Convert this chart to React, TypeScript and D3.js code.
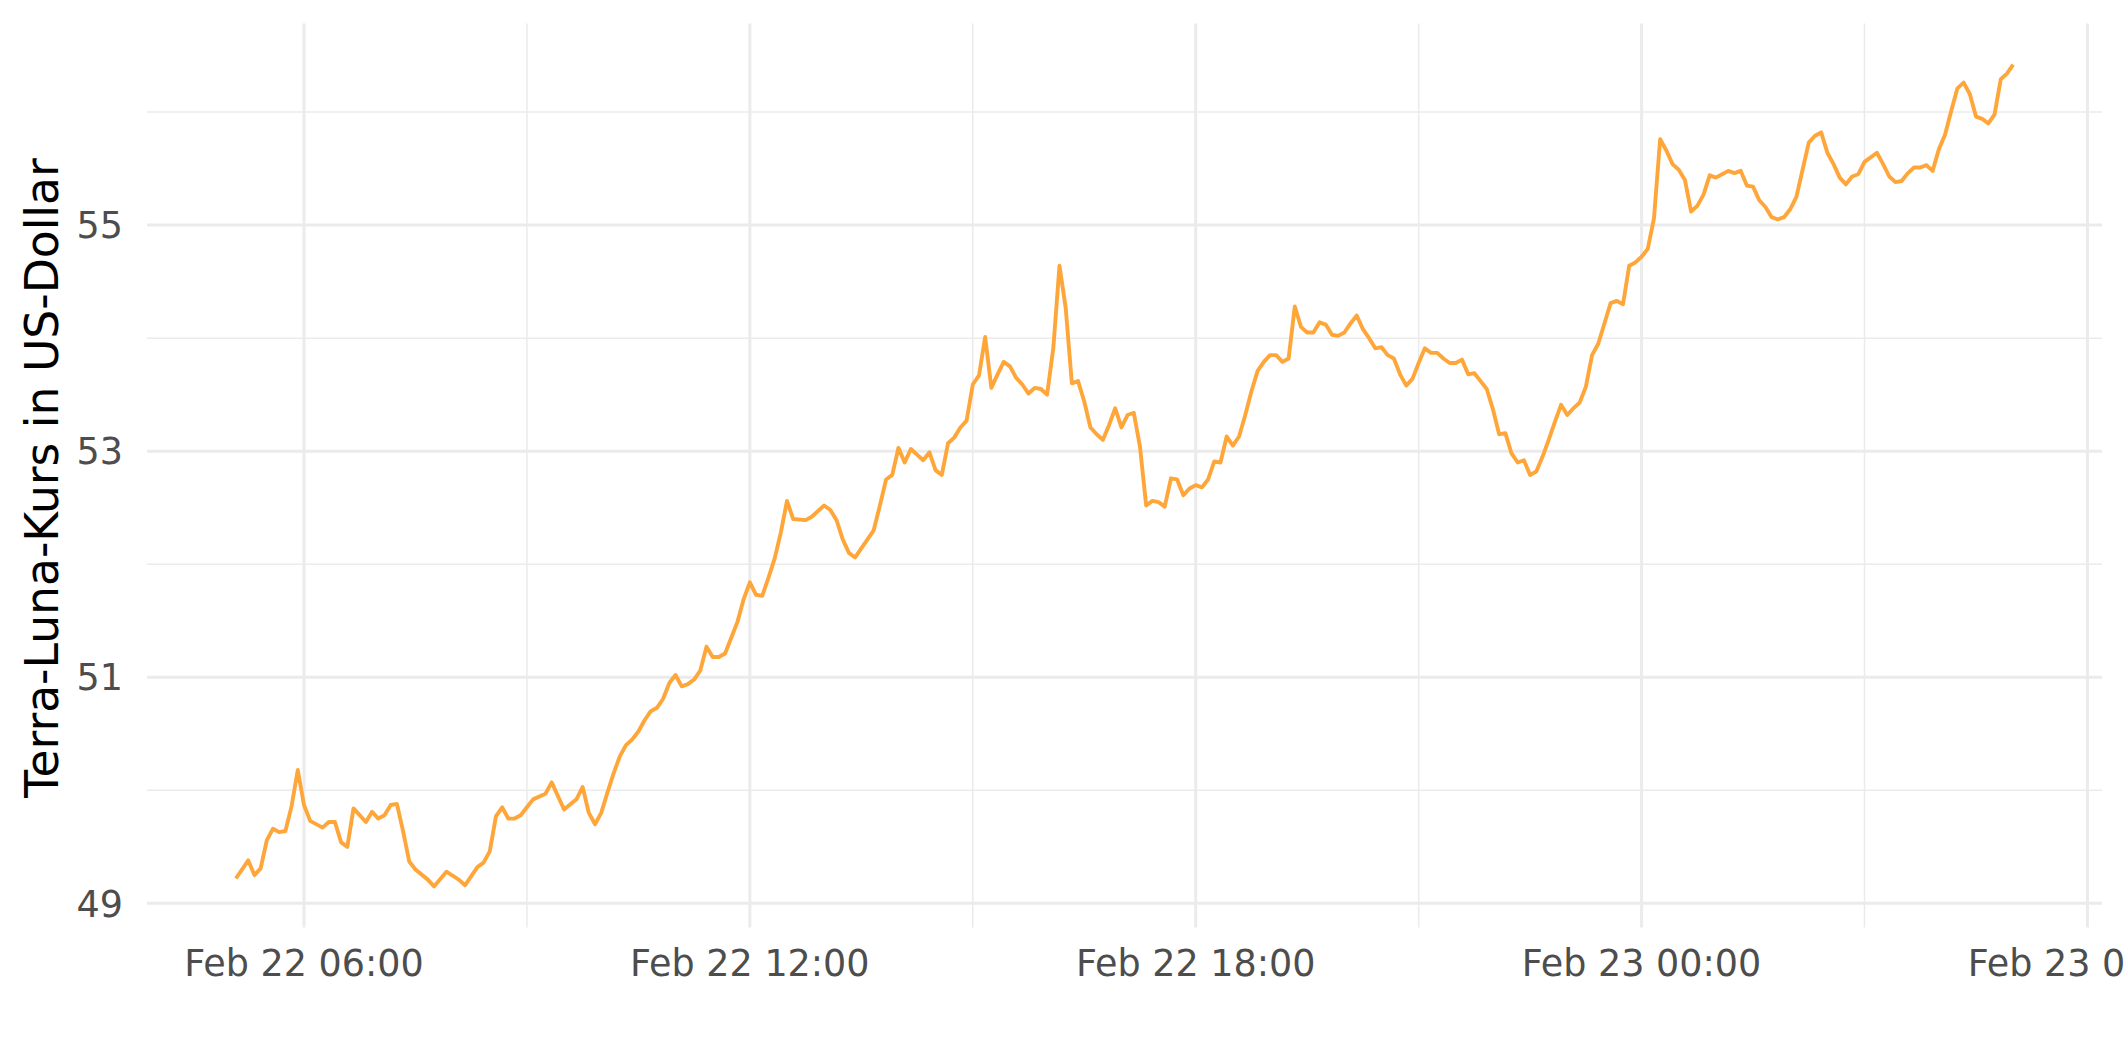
import React from "react";
import * as d3 from "d3";

// Terra-Luna price, 5-minute snapshots (day hh:mm, Feb 2022)
const times: string[] = [
  "22 05:05","22 05:15","22 05:20","22 05:25","22 05:30","22 05:35","22 05:40","22 05:45","22 05:50","22 05:55",
  "22 06:00","22 06:05","22 06:15","22 06:20","22 06:25","22 06:30","22 06:35","22 06:40","22 06:50","22 06:55",
  "22 07:00","22 07:05","22 07:10","22 07:15","22 07:20","22 07:25","22 07:30","22 07:40","22 07:45","22 07:55",
  "22 08:05","22 08:10","22 08:20","22 08:25","22 08:30","22 08:35","22 08:40","22 08:45","22 08:50","22 08:55",
  "22 09:00","22 09:05","22 09:15","22 09:20","22 09:30","22 09:40","22 09:45","22 09:50","22 09:55","22 10:00",
  "22 10:05","22 10:10","22 10:15","22 10:20","22 10:25","22 10:30","22 10:35","22 10:40","22 10:45","22 10:50",
  "22 10:55","22 11:00","22 11:05","22 11:10","22 11:15","22 11:20","22 11:25","22 11:30","22 11:35","22 11:40",
  "22 11:45","22 11:50","22 11:55","22 12:00","22 12:05","22 12:10","22 12:15","22 12:20","22 12:25","22 12:30",
  "22 12:35","22 12:45","22 12:50","22 13:00","22 13:05","22 13:10","22 13:15","22 13:20","22 13:25","22 13:30",
  "22 13:35","22 13:40","22 13:45","22 13:50","22 13:55","22 14:00","22 14:05","22 14:10","22 14:15","22 14:20",
  "22 14:25","22 14:30","22 14:35","22 14:40","22 14:45","22 14:50","22 14:55","22 15:00","22 15:05","22 15:10",
  "22 15:15","22 15:20","22 15:25","22 15:30","22 15:35","22 15:40","22 15:45","22 15:50","22 15:55","22 16:00",
  "22 16:05","22 16:10","22 16:15","22 16:20","22 16:25","22 16:30","22 16:35","22 16:40","22 16:45","22 16:50",
  "22 16:55","22 17:00","22 17:05","22 17:10","22 17:15","22 17:20","22 17:25","22 17:30","22 17:35","22 17:40",
  "22 17:45","22 17:50","22 17:55","22 18:00","22 18:05","22 18:10","22 18:15","22 18:20","22 18:25","22 18:30",
  "22 18:35","22 18:40","22 18:45","22 18:50","22 18:55","22 19:00","22 19:05","22 19:10","22 19:15","22 19:20",
  "22 19:25","22 19:30","22 19:35","22 19:40","22 19:45","22 19:50","22 19:55","22 20:00","22 20:05","22 20:10",
  "22 20:15","22 20:20","22 20:25","22 20:30","22 20:35","22 20:40","22 20:45","22 20:50","22 20:55","22 21:00",
  "22 21:05","22 21:10","22 21:15","22 21:20","22 21:25","22 21:30","22 21:35","22 21:40","22 21:45","22 21:50",
  "22 21:55","22 22:00","22 22:05","22 22:10","22 22:15","22 22:20","22 22:25","22 22:30","22 22:35","22 22:40",
  "22 22:45","22 22:50","22 22:55","22 23:00","22 23:05","22 23:10","22 23:15","22 23:20","22 23:25","22 23:30",
  "22 23:35","22 23:40","22 23:45","22 23:50","22 23:55","23 00:00","23 00:05","23 00:10","23 00:15","23 00:20",
  "23 00:25","23 00:30","23 00:35","23 00:40","23 00:45","23 00:50","23 00:55","23 01:00","23 01:05","23 01:10",
  "23 01:15","23 01:20","23 01:25","23 01:30","23 01:35","23 01:40","23 01:45","23 01:50","23 01:55","23 02:00",
  "23 02:05","23 02:10","23 02:15","23 02:20","23 02:25","23 02:30","23 02:35","23 02:40","23 02:45","23 02:50",
  "23 02:55","23 03:00","23 03:10","23 03:15","23 03:20","23 03:25","23 03:30","23 03:35","23 03:40","23 03:45",
  "23 03:50","23 03:55","23 04:00","23 04:05","23 04:10","23 04:15","23 04:20","23 04:25","23 04:30","23 04:35",
  "23 04:40","23 04:45","23 04:50","23 04:55","23 05:00",
];

const prices: number[] = [
  49.22,49.38,49.25,49.31,49.56,49.66,49.63,49.64,49.86,50.18,
  49.87,49.73,49.67,49.72,49.72,49.54,49.50,49.84,49.72,49.81,
  49.75,49.78,49.87,49.88,49.64,49.37,49.30,49.21,49.15,49.28,
  49.21,49.16,49.32,49.36,49.46,49.77,49.85,49.75,49.75,49.78,
  49.85,49.92,49.97,50.07,49.83,49.92,50.03,49.80,49.70,49.80,
  49.98,50.15,50.30,50.40,50.45,50.52,50.62,50.70,50.73,50.81,
  50.95,51.02,50.92,50.94,50.98,51.06,51.27,51.18,51.18,51.21,
  51.35,51.49,51.69,51.84,51.73,51.72,51.88,52.05,52.28,52.56,
  52.40,52.39,52.42,52.52,52.48,52.39,52.22,52.10,52.06,52.14,
  52.22,52.30,52.52,52.75,52.79,53.03,52.90,53.02,52.97,52.92,
  52.99,52.83,52.79,53.07,53.12,53.21,53.27,53.59,53.67,54.01,
  53.56,53.68,53.79,53.75,53.65,53.59,53.51,53.56,53.55,53.50,
  53.91,54.64,54.27,53.60,53.62,53.44,53.21,53.15,53.10,53.23,
  53.38,53.21,53.32,53.34,53.04,52.52,52.56,52.55,52.51,52.76,
  52.75,52.61,52.67,52.70,52.68,52.75,52.91,52.90,53.13,53.05,
  53.13,53.32,53.53,53.71,53.79,53.85,53.85,53.79,53.82,54.28,
  54.10,54.05,54.05,54.14,54.12,54.03,54.02,54.05,54.13,54.20,
  54.08,54.00,53.91,53.92,53.85,53.82,53.68,53.58,53.64,53.78,
  53.91,53.87,53.87,53.82,53.78,53.78,53.81,53.68,53.69,53.62,
  53.55,53.37,53.15,53.16,52.98,52.90,52.92,52.79,52.82,52.95,
  53.10,53.26,53.41,53.32,53.38,53.43,53.57,53.85,53.95,54.13,
  54.31,54.33,54.30,54.64,54.67,54.72,54.79,55.06,55.76,55.66,
  55.54,55.49,55.40,55.12,55.17,55.27,55.44,55.42,55.45,55.48,
  55.46,55.48,55.35,55.34,55.22,55.16,55.07,55.05,55.07,55.14,
  55.25,55.49,55.73,55.79,55.82,55.64,55.54,55.42,55.36,55.43,
  55.45,55.56,55.64,55.54,55.43,55.38,55.39,55.46,55.51,55.51,
  55.53,55.48,55.67,55.80,56.01,56.21,56.26,56.16,55.96,55.94,
  55.90,55.98,56.29,56.34,56.42,
];

const xMajorTicks: string[] = ["22 06:00", "22 12:00", "22 18:00", "23 00:00", "23 06:00"];
const xMinorTicks: string[] = ["22 09:00", "22 15:00", "22 21:00", "23 03:00"];
const yMajorTicks: number[] = [49, 51, 53, 55];
const yMinorTicks: number[] = [50, 52, 54, 56];
const yTitle = "Terra-Luna-Kurs in US-Dollar";

const W = 2125;
const H = 1062;
const panel = { left: 147, right: 2102, top: 23.5, bottom: 927.5 };
const GRID = "#EBEBEB";
const LINE = "#FFA63A";
const TEXT = "#4D4D4D";
const FONT = "'DejaVu Sans', sans-serif";

const parse = d3.timeParse("%Y-%m-%d %H:%M");
const toDate = (s: string): Date => parse("2022-02-" + s) as Date;
const fmt = d3.timeFormat("%b %d %H:%M");

export default function App() {
  const data = times.map((t, i) => ({ date: toDate(t), value: prices[i] }));
  const [t0, t1] = d3.extent(data, (d) => d.date) as [Date, Date];
  const tPad = (+t1 - +t0) * 0.05;
  const x = d3
    .scaleTime()
    .domain([new Date(+t0 - tPad), new Date(+t1 + tPad)])
    .range([panel.left, panel.right]);
  const [v0, v1] = d3.extent(prices) as [number, number];
  const vPad = (v1 - v0) * 0.05;
  const y = d3.scaleLinear().domain([v0 - vPad, v1 + vPad]).range([panel.bottom, panel.top]);

  const path = d3
    .line<{ date: Date; value: number }>()
    .x((d) => x(d.date))
    .y((d) => y(d.value))(data) as string;

  const majorX = xMajorTicks.map(toDate);
  const minorX = xMinorTicks.map(toDate);

  return (
    <svg
      width={W}
      height={H}
      viewBox={`0 0 ${W} ${H}`}
      style={{ position: "absolute", left: 0, top: 0, background: "#fff" }}
    >
      <rect x={0} y={0} width={W} height={H} fill="#fff" />
      {yMinorTicks.map((v) => (
        <line key={"ym" + v} x1={panel.left} x2={panel.right} y1={y(v)} y2={y(v)} stroke={GRID} strokeWidth={1.5} />
      ))}
      {minorX.map((d, i) => (
        <line key={"xm" + i} x1={x(d)} x2={x(d)} y1={panel.top} y2={panel.bottom} stroke={GRID} strokeWidth={1.5} />
      ))}
      {yMajorTicks.map((v) => (
        <line key={"yM" + v} x1={panel.left} x2={panel.right} y1={y(v)} y2={y(v)} stroke={GRID} strokeWidth={3} />
      ))}
      {majorX.map((d, i) => (
        <line key={"xM" + i} x1={x(d)} x2={x(d)} y1={panel.top} y2={panel.bottom} stroke={GRID} strokeWidth={3} />
      ))}
      <path d={path} fill="none" stroke={LINE} strokeWidth={3.9} strokeLinejoin="round" strokeLinecap="butt" />
      {yMajorTicks.map((v) => (
        <text
          key={"yl" + v}
          x={123}
          y={y(v)}
          dy="0.36em"
          textAnchor="end"
          fill={TEXT}
          fontFamily={FONT}
          fontSize={36.5}
        >
          {v}
        </text>
      ))}
      {majorX.map((d, i) => (
        <text key={"xl" + i} x={x(d)} y={976} textAnchor="middle" fill={TEXT} fontFamily={FONT} fontSize={36.5}>
          {fmt(d)}
        </text>
      ))}
      <text
        transform={`translate(58, 478) rotate(-90)`}
        textAnchor="middle"
        fill="#000"
        fontFamily={FONT}
        fontSize={45.6}
      >
        {yTitle}
      </text>
    </svg>
  );
}
